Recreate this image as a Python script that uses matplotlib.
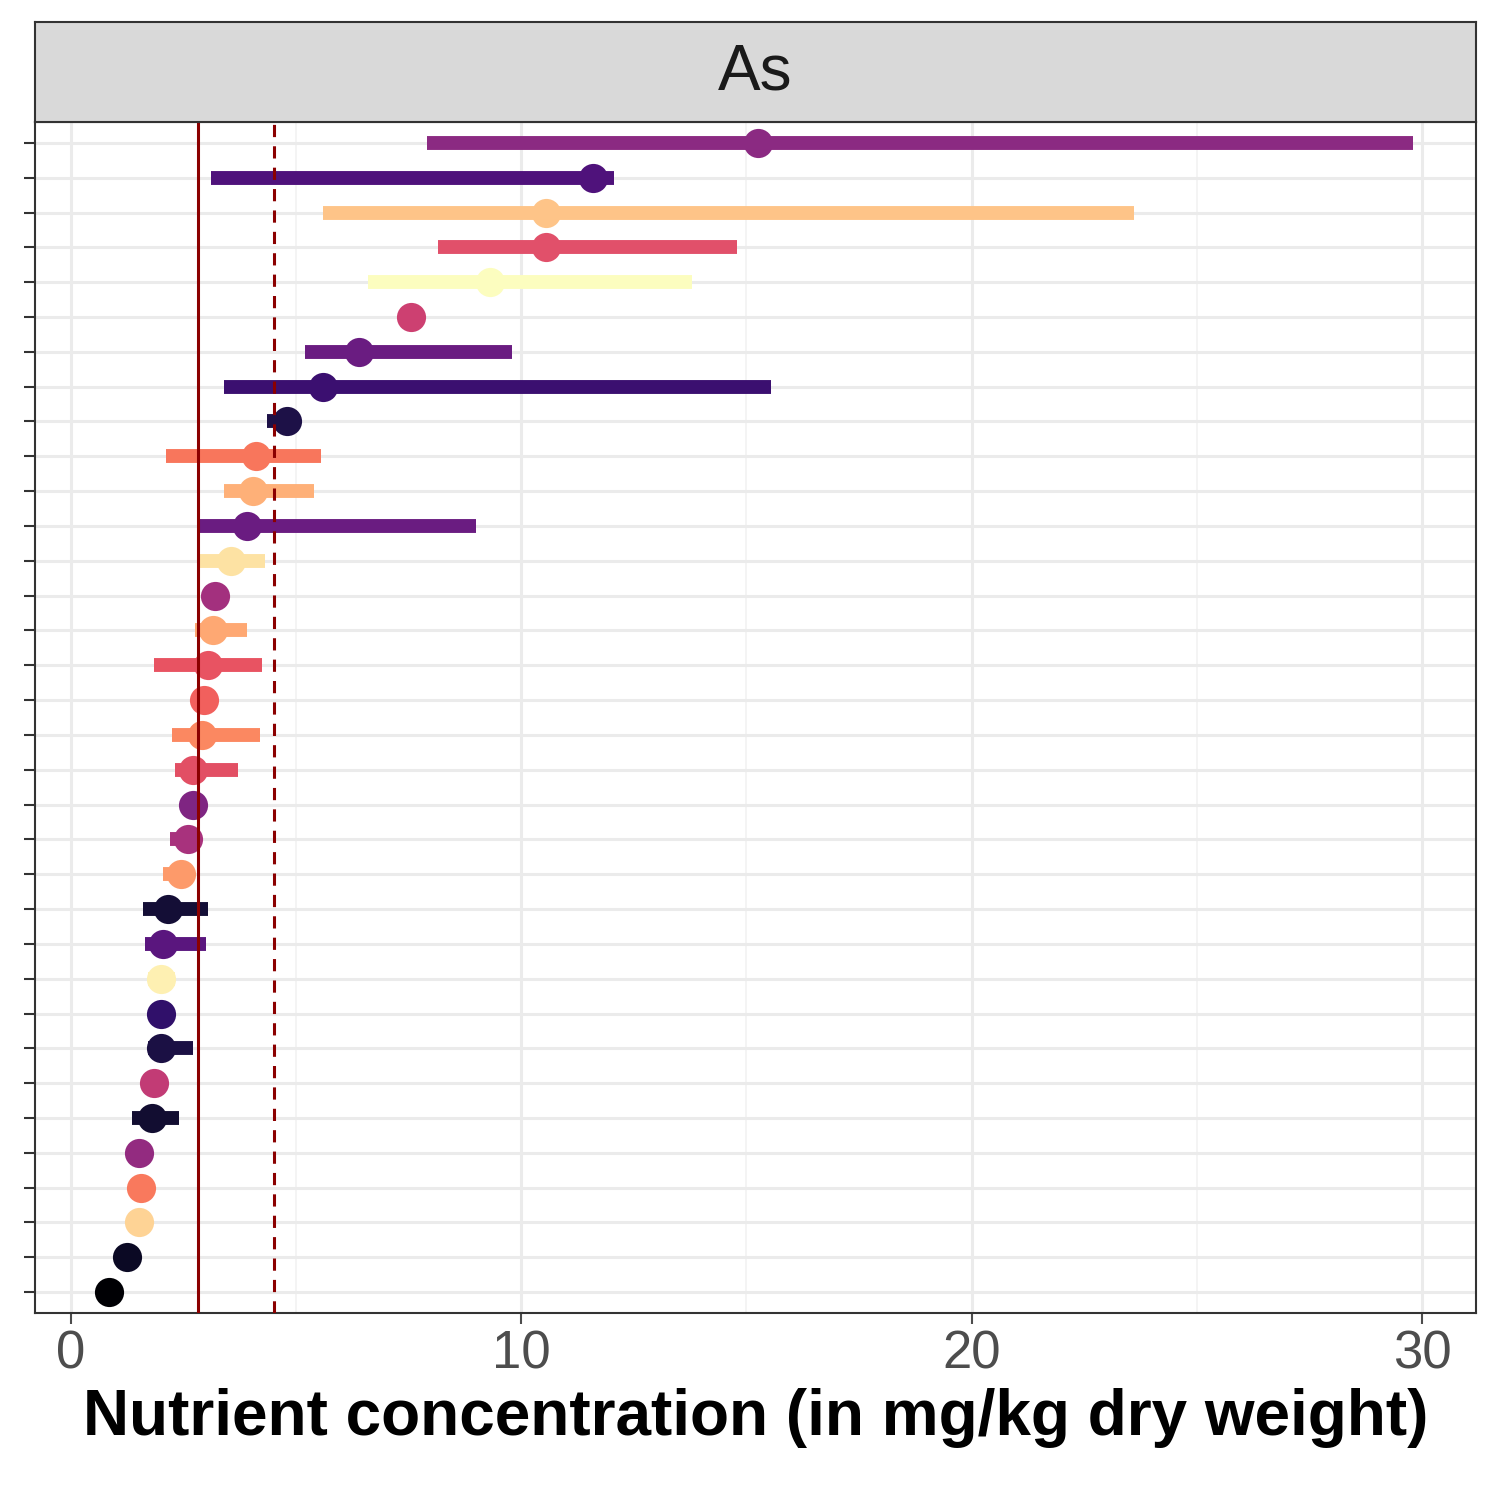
import numpy as np
import matplotlib.pyplot as plt

plt.rcParams['font.family'] = ['Liberation Sans', 'DejaVu Sans']

# rows listed top to bottom
centers = [15.25, 11.6, 10.55, 10.55, 9.3, 7.55, 6.4, 5.6, 4.8, 4.1, 4.05, 3.9, 3.55, 3.2,
           3.15, 3.05, 2.95, 2.9, 2.7, 2.7, 2.6, 2.45, 2.15, 2.05, 2.0, 2.0, 2.0, 1.85,
           1.8, 1.5, 1.55, 1.5, 1.25, 0.85]
lows = [7.9, 3.1, 5.6, 8.15, 6.6, None, 5.2, 3.4, 4.35, 2.1, 3.4, 2.8, 2.8, None,
        2.75, 1.85, None, 2.25, 2.3, None, 2.2, 2.05, 1.6, 1.65, 1.7, None, 1.7, None,
        1.35, None, 1.35, None, None, None]
highs = [29.8, 12.05, 23.6, 14.8, 13.8, None, 9.8, 15.55, 4.8, 5.55, 5.4, 9.0, 4.3, None,
         3.9, 4.25, None, 4.2, 3.7, None, 2.85, 2.65, 3.05, 3.0, 2.3, None, 2.7, None,
         2.4, None, 1.85, None, None, None]
colors = ['#8B2A82', '#4F127B', '#FEC488', '#E1506A', '#FCFDBF', '#CD4071', '#6A1C81',
          '#3B0F70', '#1D1147', '#F8765C', '#FEB078', '#6A1C81', '#FDE2A3', '#A3307E',
          '#FEA873', '#E85362', '#F1605D', '#FB8861', '#E24F64', '#7F2582', '#A8327D',
          '#FD9A6A', '#140E36', '#5A167E', '#FEF0B2', '#30106A', '#1B1044', '#C23B75',
          '#120D31', '#932B80', '#F9795D', '#FED395', '#0B0924', '#000004']
ref_solid = 2.82
ref_dashed = 4.5

fig = plt.figure(figsize=(15, 15), dpi=100)
ax = fig.add_axes([35/1500, 1 - 1313/1500, 1441/1500, 1191/1500])
strip = fig.add_axes([35/1500, 1 - 122/1500, 1441/1500, 100/1500])

n = len(centers)
ys = np.arange(n)[::-1]
for y, c, lo, hi, col in zip(ys, centers, lows, highs, colors):
    if lo is not None:
        ax.plot([lo, hi], [y, y], color=col, lw=10, solid_capstyle='butt', zorder=3)
    ax.plot(c, y, 'o', color=col, ms=21, mec='none', zorder=4)

ax.axvline(ref_solid, color='#8B0000', lw=2.2, zorder=5)
ax.axvline(ref_dashed, color='#8B0000', lw=2.2, ls=(0, (4, 3)), zorder=5)

ax.set_xlim(-0.8, 31.2)
ax.set_ylim(-0.6, n - 0.4)
ax.set_xticks([0, 10, 20, 30])
ax.set_xticks([5, 15, 25], minor=True)
ax.set_yticks(ys)
ax.set_yticklabels([])
ax.grid(True, which='major', color='#EBEBEB', lw=2.2, zorder=0)
ax.grid(True, which='minor', axis='x', color='#F2F2F2', lw=1.2, zorder=0)
ax.set_axisbelow(True)
ax.tick_params(axis='x', labelsize=38, colors='#4D4D4D', length=8, width=1.5, pad=4)
ax.tick_params(axis='y', length=8, width=1.5, colors='#333333')
ax.tick_params(axis='x', which='minor', length=0)
for s in ax.spines.values():
    s.set_color('#333333')
    s.set_linewidth(1.5)
ax.set_xlabel('Nutrient concentration (in mg/kg dry weight)', fontsize=46,
              fontweight='bold', labelpad=6)

strip.set_facecolor('#D9D9D9')
strip.set_xticks([])
strip.set_yticks([])
for s in strip.spines.values():
    s.set_color('#333333')
    s.set_linewidth(1.5)
strip.text(0.5, 0.5, 'As', fontsize=46, color='#1A1A1A', ha='center', va='center',
           transform=strip.transAxes)

fig.savefig('out.png', dpi=100)
